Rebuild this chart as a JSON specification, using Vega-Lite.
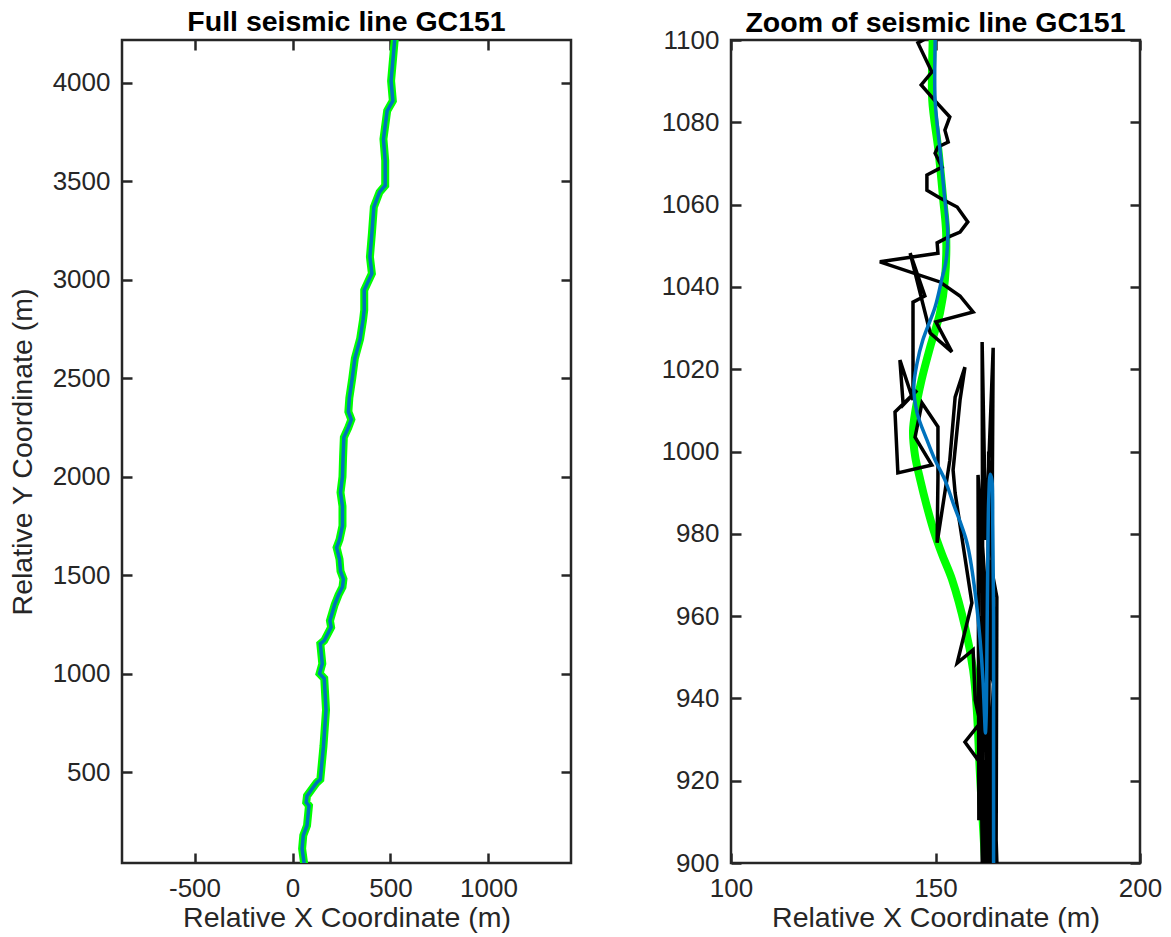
{
 "$schema": "https://vega.github.io/schema/vega-lite/v6.json",
 "background": "white",
 "padding": {"left": 6, "top": 7, "right": 5, "bottom": 0},
 "spacing": 85,
 "config": {
  "font": "Liberation Sans",
  "view": {"stroke": "#262626", "strokeWidth": 2.5},
  "axis": {"domain": false, "grid": false, "ticks": true, "tickSize": -10, "tickWidth": 2.5, "tickColor": "#262626", "labelFont": "Liberation Sans", "labelFontSize": 26, "labelColor": "#262626", "labelFlush": false, "labelOverlap": false, "labelExpr": "'' + datum.value", "titleFont": "Liberation Sans", "titleFontSize": 28.5, "titleFontWeight": "normal", "titleColor": "#262626"},
  "axisX": {"labelPadding": 22, "titlePadding": 2},
  "axisY": {"labelPadding": 22, "titlePadding": 15},
  "title": {"font": "Liberation Sans", "fontSize": 28.5, "fontWeight": "bold", "color": "#000000", "offset": 0, "frame": "group"}
 },
 "datasets": {
  "full": [
   {"i":1,"x":60,"y":30},{"i":2,"x":49,"y":111},{"i":3,"x":55,"y":178},{"i":4,"x":74,"y":228},{"i":5,"x":84,"y":329},{"i":6,"x":70,"y":346},{"i":7,"x":74,"y":379},{"i":8,"x":123,"y":446},{"i":9,"x":142,"y":463},{"i":10,"x":158,"y":631},{"i":11,"x":171,"y":815},{"i":12,"x":162,"y":975},{"i":13,"x":138,"y":1000},{"i":14,"x":152,"y":1050},{"i":15,"x":142,"y":1151},{"i":16,"x":162,"y":1168},{"i":17,"x":197,"y":1235},{"i":18,"x":191,"y":1268},{"i":19,"x":215,"y":1350},{"i":20,"x":235,"y":1400},{"i":21,"x":255,"y":1440},{"i":22,"x":260,"y":1480},{"i":23,"x":245,"y":1520},{"i":24,"x":240,"y":1580},{"i":25,"x":225,"y":1640},{"i":26,"x":240,"y":1680},{"i":27,"x":255,"y":1750},{"i":28,"x":255,"y":1850},{"i":29,"x":245,"y":1920},{"i":30,"x":255,"y":2000},{"i":31,"x":258,"y":2100},{"i":32,"x":262,"y":2200},{"i":33,"x":285,"y":2250},{"i":34,"x":300,"y":2290},{"i":35,"x":285,"y":2330},{"i":36,"x":290,"y":2400},{"i":37,"x":305,"y":2500},{"i":38,"x":318,"y":2600},{"i":39,"x":345,"y":2700},{"i":40,"x":360,"y":2796},{"i":41,"x":366,"y":2847},{"i":42,"x":366,"y":2948},{"i":43,"x":405,"y":3032},{"i":44,"x":395,"y":3116},{"i":45,"x":405,"y":3234},{"i":46,"x":415,"y":3369},{"i":47,"x":444,"y":3445},{"i":48,"x":473,"y":3479},{"i":49,"x":473,"y":3605},{"i":50,"x":464,"y":3715},{"i":51,"x":483,"y":3858},{"i":52,"x":512,"y":3909},{"i":53,"x":503,"y":4010},{"i":54,"x":522,"y":4225}
  ],
  "zoom": [
   {"s":"g","i":1,"x":149.3,"y":1104},{"s":"g","i":2,"x":149.3,"y":1100},{"s":"g","i":3,"x":149.2,"y":1085.4},{"s":"g","i":4,"x":150.7,"y":1073.3},{"s":"g","i":5,"x":151.9,"y":1061.1},{"s":"g","i":6,"x":152.6,"y":1053.1},{"s":"g","i":7,"x":152.3,"y":1041.7},{"s":"g","i":8,"x":151.1,"y":1033.7},{"s":"g","i":9,"x":148.7,"y":1025.4},{"s":"g","i":10,"x":146.6,"y":1017.4},{"s":"g","i":11,"x":145.1,"y":1010.0},{"s":"g","i":12,"x":144.5,"y":1005.0},{"s":"g","i":13,"x":145.0,"y":999.0},{"s":"g","i":14,"x":146.3,"y":993.0},{"s":"g","i":15,"x":147.8,"y":987.0},{"s":"g","i":16,"x":149.5,"y":981.0},{"s":"g","i":17,"x":151.6,"y":975.0},{"s":"g","i":18,"x":154.0,"y":969.0},{"s":"g","i":19,"x":157.3,"y":957.0},{"s":"g","i":20,"x":159.2,"y":946.9},{"s":"g","i":21,"x":160.1,"y":937.2},{"s":"g","i":22,"x":160.9,"y":920.9},{"s":"g","i":23,"x":162.1,"y":900.7},{"s":"g","i":24,"x":162.3,"y":896},
   {"s":"b","i":1,"x":149.9,"y":1104},{"s":"b","i":2,"x":149.9,"y":1100},{"s":"b","i":3,"x":149.9,"y":1085.4},{"s":"b","i":4,"x":151.1,"y":1073.3},{"s":"b","i":5,"x":152.3,"y":1061.1},{"s":"b","i":6,"x":153.0,"y":1053.1},{"s":"b","i":7,"x":152.6,"y":1046.5},{"s":"b","i":8,"x":151.5,"y":1041.7},{"s":"b","i":9,"x":149.9,"y":1035.1},{"s":"b","i":10,"x":146.9,"y":1027.1},{"s":"b","i":11,"x":145.5,"y":1021.5},{"s":"b","i":12,"x":144.7,"y":1015.7},{"s":"b","i":13,"x":145.5,"y":1009.4},{"s":"b","i":14,"x":147.9,"y":1002.8},{"s":"b","i":15,"x":149.9,"y":997.9},{"s":"b","i":16,"x":152.3,"y":993.1},{"s":"b","i":17,"x":154.3,"y":987.5},{"s":"b","i":18,"x":157.7,"y":977.8},{"s":"b","i":19,"x":159.7,"y":965.6},{"s":"b","i":20,"x":160.9,"y":954.2},{"s":"b","i":21,"x":161.6,"y":944.5},{"s":"b","i":22,"x":162.0,"y":935.5},{"s":"b","i":23,"x":162.2,"y":931.6},{"s":"b","i":24,"x":162.4,"y":936},{"s":"b","i":25,"x":162.6,"y":955},{"s":"b","i":26,"x":162.8,"y":975},{"s":"b","i":27,"x":163.0,"y":988},{"s":"b","i":28,"x":163.4,"y":994.5},{"s":"b","i":29,"x":163.8,"y":993},{"s":"b","i":30,"x":164.0,"y":982},{"s":"b","i":31,"x":164.2,"y":960},{"s":"b","i":32,"x":164.2,"y":930},{"s":"b","i":33,"x":164.2,"y":900},{"s":"b","i":34,"x":164.2,"y":896},
   {"s":"k","i":1,"x":148.5,"y":1104.9},{"s":"k","i":2,"x":147.4,"y":1100.2},{"s":"k","i":3,"x":145.7,"y":1099.3},{"s":"k","i":4,"x":149.1,"y":1092.2},{"s":"k","i":5,"x":146.5,"y":1089.1},{"s":"k","i":6,"x":149.9,"y":1085.2},{"s":"k","i":7,"x":153.5,"y":1081.3},{"s":"k","i":8,"x":152.3,"y":1078.1},{"s":"k","i":9,"x":153.1,"y":1075.2},{"s":"k","i":10,"x":150.6,"y":1074.0},{"s":"k","i":11,"x":149.9,"y":1072.5},{"s":"k","i":12,"x":151.6,"y":1069.1},{"s":"k","i":13,"x":147.9,"y":1067.2},{"s":"k","i":14,"x":147.9,"y":1063.5},{"s":"k","i":15,"x":151.1,"y":1061.6},{"s":"k","i":16,"x":155.3,"y":1059.4},{"s":"k","i":17,"x":157.9,"y":1055.8},{"s":"k","i":18,"x":156.0,"y":1053.3},{"s":"k","i":19,"x":153.1,"y":1052.1},{"s":"k","i":20,"x":150.4,"y":1050.7},{"s":"k","i":21,"x":150.6,"y":1048.2},{"s":"k","i":22,"x":136.4,"y":1046.1},{"s":"k","i":23,"x":151.1,"y":1041.2},{"s":"k","i":24,"x":156.0,"y":1037.8},{"s":"k","i":25,"x":159.2,"y":1033.9},{"s":"k","i":26,"x":150.1,"y":1031.5},{"s":"k","i":27,"x":154.0,"y":1024.2},{"s":"k","i":28,"x":148.7,"y":1028.8},{"s":"k","i":29,"x":143.8,"y":1048.2},{"s":"k","i":30,"x":147.4,"y":1037.8},{"s":"k","i":31,"x":144.5,"y":1036.3},{"s":"k","i":32,"x":144.5,"y":1012.5},{"s":"k","i":33,"x":141.3,"y":1022.2},{"s":"k","i":34,"x":142.1,"y":1011.3},{"s":"k","i":35,"x":145.5,"y":1014.9},{"s":"k","i":36,"x":140.1,"y":1009.6},{"s":"k","i":37,"x":140.8,"y":994.8},{"s":"k","i":38,"x":149.1,"y":996.7},{"s":"k","i":39,"x":145.0,"y":1003.5},{"s":"k","i":40,"x":146.7,"y":1011.8},{"s":"k","i":41,"x":150.6,"y":1006.0},{"s":"k","i":42,"x":150.6,"y":993.6},{"s":"k","i":43,"x":150.4,"y":977.8},{"s":"k","i":44,"x":153.5,"y":997.9},{"s":"k","i":45,"x":154.8,"y":1013.2},{"s":"k","i":46,"x":157.2,"y":1020.5},{"s":"k","i":47,"x":156.0,"y":1012.5},{"s":"k","i":48,"x":154.3,"y":995.5},{"s":"k","i":49,"x":154.8,"y":989.9},{"s":"k","i":50,"x":158.9,"y":963.2},{"s":"k","i":51,"x":155.3,"y":948.6},{"s":"k","i":52,"x":159.2,"y":951.8},{"s":"k","i":53,"x":159.7,"y":939.6},{"s":"k","i":54,"x":160.9,"y":934.0},{"s":"k","i":55,"x":157.2,"y":929.4},{"s":"k","i":56,"x":160.4,"y":925.0},{"s":"k","i":57,"x":161.6,"y":939.6},{"s":"k","i":58,"x":161.4,"y":1026.6},{"s":"k","i":59,"x":162.3,"y":978.5},{"s":"k","i":60,"x":164.1,"y":1025.2},{"s":"k","i":61,"x":163.6,"y":944.5},{"s":"k","i":62,"x":160.4,"y":994.3},{"s":"k","i":63,"x":160.6,"y":910.4},{"s":"k","i":64,"x":161.9,"y":963.9},{"s":"k","i":65,"x":162.8,"y":903.2},{"s":"k","i":66,"x":163.3,"y":973.6},{"s":"k","i":67,"x":165.0,"y":964.6},{"s":"k","i":68,"x":164.8,"y":895.9},{"s":"k","i":69,"x":161.6,"y":925.0},{"s":"k","i":70,"x":162.6,"y":893.4},{"s":"k","i":71,"x":163.8,"y":920.2},{"s":"k","i":72,"x":163.3,"y":891.0},{"s":"k","i":73,"x":161.2,"y":985.0},{"s":"k","i":74,"x":161.8,"y":895.0},{"s":"k","i":75,"x":164.5,"y":950.0},{"s":"k","i":76,"x":163.0,"y":1000.0},{"s":"k","i":77,"x":162.5,"y":896.0},{"s":"k","i":78,"x":164.9,"y":940.0},{"s":"k","i":79,"x":160.8,"y":960.0},{"s":"k","i":80,"x":161.5,"y":894.0},{"s":"k","i":81,"x":163.9,"y":935.0},{"s":"k","i":82,"x":165.1,"y":897.0}
  ]
 },
 "hconcat": [
  {
   "width": 449, "height": 823,
   "title": {"text": "Full seismic line GC151", "offset": 2},
   "data": {"name": "full"},
   "layer": [
    {
     "mark": {"type": "line", "color": "#00ff00", "strokeWidth": 8, "clip": true},
     "encoding": {
      "x": {"field": "x", "type": "quantitative", "scale": {"domain": [-870, 1421], "zero": false, "nice": false}, "axis": {"orient": "bottom", "values": [-500, 0, 500, 1000], "title": "Relative X Coordinate (m)"}},
      "y": {"field": "y", "type": "quantitative", "scale": {"domain": [38, 4218], "zero": false, "nice": false}, "axis": {"orient": "left", "values": [500, 1000, 1500, 2000, 2500, 3000, 3500, 4000], "title": "Relative Y Coordinate (m)"}},
      "order": {"field": "i", "type": "quantitative"}
     }
    },
    {
     "mark": {"type": "line", "color": "#0072bd", "strokeWidth": 3.5, "clip": true},
     "encoding": {
      "x": {"field": "x", "type": "quantitative", "scale": {"domain": [-870, 1421], "zero": false, "nice": false}, "axis": {"orient": "top", "values": [-500, 0, 500, 1000], "labels": false, "title": null}},
      "y": {"field": "y", "type": "quantitative", "scale": {"domain": [38, 4218], "zero": false, "nice": false}, "axis": {"orient": "right", "values": [500, 1000, 1500, 2000, 2500, 3000, 3500, 4000], "labels": false, "title": null}},
      "order": {"field": "i", "type": "quantitative"}
     }
    }
   ],
   "resolve": {"axis": {"x": "independent", "y": "independent"}}
  },
  {
   "width": 409, "height": 823,
   "title": {"text": "Zoom of seismic line GC151", "offset": -10},
   "data": {"name": "zoom"},
   "layer": [
    {
     "transform": [{"filter": "datum.s === 'g'"}],
     "mark": {"type": "line", "color": "#00ff00", "strokeWidth": 8, "clip": true, "interpolate": "catmull-rom"},
     "encoding": {
      "x": {"field": "x", "type": "quantitative", "scale": {"domain": [100, 200], "zero": false, "nice": false}, "axis": {"orient": "bottom", "values": [100, 150, 200], "title": "Relative X Coordinate (m)"}},
      "y": {"field": "y", "type": "quantitative", "scale": {"domain": [900, 1100], "zero": false, "nice": false}, "axis": {"orient": "left", "values": [900, 920, 940, 960, 980, 1000, 1020, 1040, 1060, 1080, 1100], "title": null}},
      "order": {"field": "i", "type": "quantitative"}
     }
    },
    {
     "transform": [{"filter": "datum.s === 'k'"}],
     "mark": {"type": "line", "color": "#000000", "strokeWidth": 3.5, "clip": true, "strokeJoin": "miter"},
     "encoding": {
      "x": {"field": "x", "type": "quantitative", "scale": {"domain": [100, 200], "zero": false, "nice": false}, "axis": null},
      "y": {"field": "y", "type": "quantitative", "scale": {"domain": [900, 1100], "zero": false, "nice": false}, "axis": null},
      "order": {"field": "i", "type": "quantitative"}
     }
    },
    {
     "transform": [{"filter": "datum.s === 'b'"}],
     "mark": {"type": "line", "color": "#0072bd", "strokeWidth": 3.5, "clip": true, "interpolate": "catmull-rom"},
     "encoding": {
      "x": {"field": "x", "type": "quantitative", "scale": {"domain": [100, 200], "zero": false, "nice": false}, "axis": {"orient": "top", "values": [100, 150, 200], "labels": false, "title": null}},
      "y": {"field": "y", "type": "quantitative", "scale": {"domain": [900, 1100], "zero": false, "nice": false}, "axis": {"orient": "right", "values": [900, 920, 940, 960, 980, 1000, 1020, 1040, 1060, 1080, 1100], "labels": false, "title": null}},
      "order": {"field": "i", "type": "quantitative"}
     }
    }
   ],
   "resolve": {"axis": {"x": "independent", "y": "independent"}}
  }
 ]
}
